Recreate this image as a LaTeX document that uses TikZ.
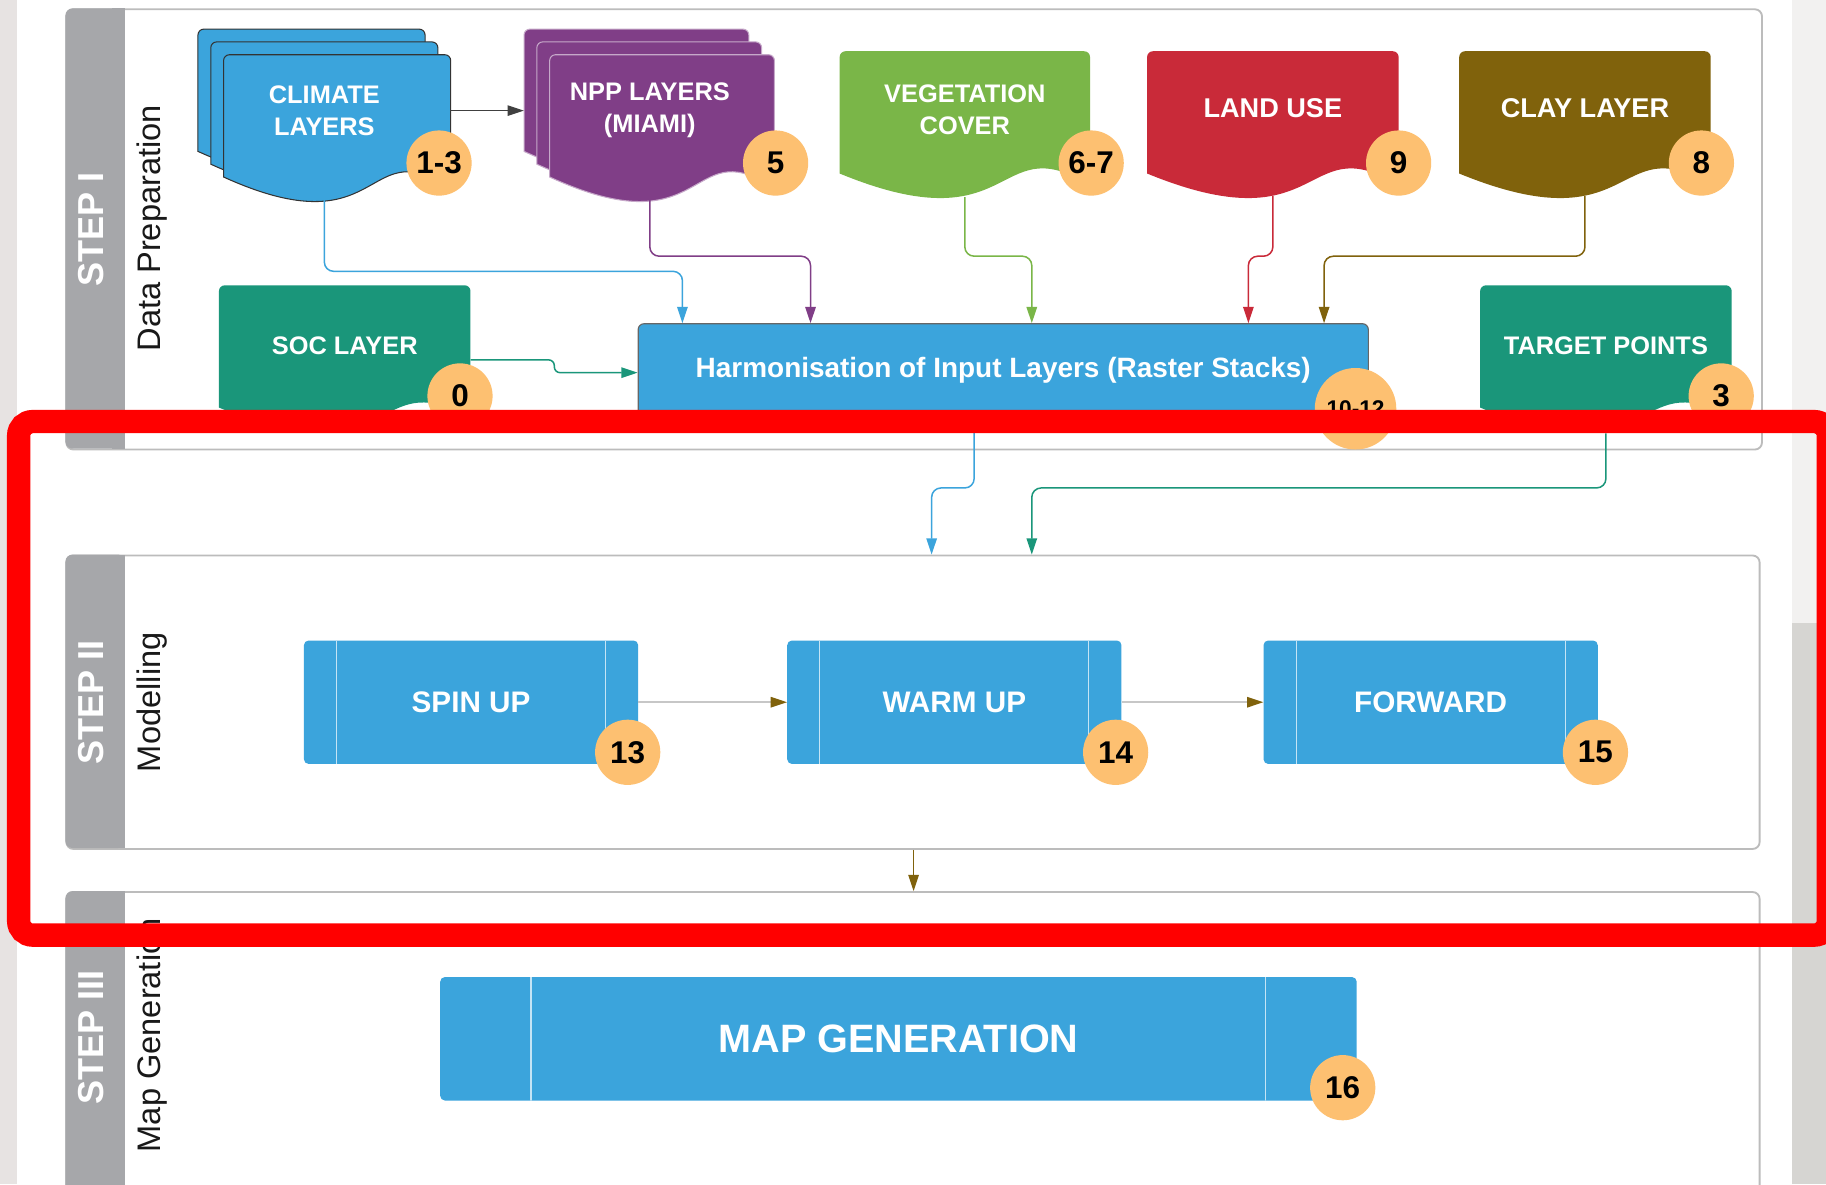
\documentclass[tikz,border=0pt]{standalone}
\usepackage{fontspec}
\setmainfont{Liberation Sans}
\usetikzlibrary{arrows.meta}

\definecolor{layerblue}{RGB}{59,164,220}
\definecolor{nppviolet}{RGB}{128,62,135}
\definecolor{veggreen}{RGB}{122,182,72}
\definecolor{landred}{RGB}{201,42,57}
\definecolor{claybrown}{RGB}{128,98,12}
\definecolor{soilteal}{RGB}{26,150,122}
\definecolor{badgeorange}{RGB}{253,192,113}
\definecolor{bargray}{RGB}{166,167,170}
\definecolor{framegray}{RGB}{188,188,188}
\definecolor{edgeleft}{RGB}{231,227,226}
\definecolor{edgeright}{RGB}{242,241,240}
\definecolor{edgetexture}{RGB}{214,213,210}

\tikzset{
  stepframe/.style={draw=framegray, line width=1.6pt, fill=white, rounded corners=6pt},
  steplabel/.style={text=white, font=\fontsize{31}{31}\selectfont\bfseries, inner sep=0pt},
  phaselabel/.style={text=black!90, font=\fontsize{28}{28}\selectfont, inner sep=0pt},
  doctext/.style={text=white, align=center, minimum width=216pt, minimum height=150pt,
    inner sep=0pt, font=\fontsize{21.8}{27.5}\selectfont\bfseries},
  procbox/.style={fill=layerblue, rounded corners=4pt, minimum height=106pt, text=white,
    font=\fontsize{25.5}{25.5}\selectfont\bfseries,
    path picture={\draw[white!70!layerblue, line width=1pt]
      ([xshift=#1]path picture bounding box.north west) -- ([xshift=#1]path picture bounding box.south west)
      ([xshift=-#1]path picture bounding box.north east) -- ([xshift=-#1]path picture bounding box.south east);}},
  procbox/.default=28pt,
  badge/.style={circle, fill=badgeorange, minimum size=56pt, inner sep=0pt,
    font=\fontsize{27}{27}\selectfont\bfseries},
  link/.style={draw=#1, line width=1.3pt, rounded corners=8pt, -{Triangle[length=14pt,width=9pt]}},
}

\newcommand{\docshape}[4]{%
  \path[#4] (#1,#2+105) [rounded corners=5pt] -- (#1,#2) -- (#1+#3,#2) -- (#1+#3,#2+115)
    [sharp corners] .. controls (#1+0.62*#3,#2+68) and (#1+0.7*#3,#2+167) .. (#1,#2+105) -- cycle;}

\begin{document}
\begin{tikzpicture}[x=1pt, y=-1pt]
  \useasboundingbox (0,0) rectangle (1568,1017);
  \clip (0,0) rectangle (1568,1017);
  \fill[white] (0,0) rectangle (1568,1017);
  \fill[edgeleft] (0,0) rectangle (15,1017);
  \fill[edgeright] (1539,0) rectangle (1568,535);
  \fill[edgetexture] (1539,535) rectangle (1568,1017);

  \node[stepframe, minimum width=1456pt, minimum height=378pt] (step1) at (785,197) {};
  \node[stepframe, minimum width=1454pt, minimum height=252pt] (step2) at (784,603) {};
  \node[stepframe, minimum width=1454pt, minimum height=310pt] (step3) at (784,921) {};
  \foreach \s/\h in {step1/378, step2/252, step3/310} {
    \fill[bargray, rounded corners=6pt] (\s.north west) rectangle ++(51,\h);
    \fill[bargray] ([xshift=40pt]\s.north west) rectangle ++(11,\h);
  }

  \node[steplabel, rotate=90] (tag1) at (78.5,197) {STEP I};
  \node[phaselabel, rotate=90] (ph1) at (131,196) {Data Preparation};
  \node[steplabel, rotate=90] (tag2) at (78.5,603) {STEP II};
  \node[phaselabel, rotate=90] (ph2) at (131,603) {Modelling};
  \node[steplabel, rotate=90] (tag3) at (78.5,891) {STEP III};
  \node[phaselabel, rotate=90] (ph3) at (131,889) {Map Generation};

  % input layers
  \foreach \d in {0,11,22} {
    \docshape{170+\d}{25+\d}{195}{fill=layerblue, draw=black!80, line width=0.9pt}
    \docshape{450+\d}{25+\d}{193}{fill=nppviolet, draw=white!55!nppviolet, line width=0.9pt}
  }
  \docshape{721}{44}{215}{fill=veggreen}
  \docshape{985}{44}{216}{fill=landred}
  \docshape{1253}{44}{216}{fill=claybrown}
  \docshape{188}{245}{216}{fill=soilteal}
  \docshape{1271}{245}{216}{fill=soilteal}

  \node[doctext] (clim) at (278.5,95) {CLIMATE\\LAYERS};
  \node[doctext] (npp) at (558,95) {NPP LAYERS\\(MIAMI)};
  \node[doctext] (veg) at (828.5,94) {VEGETATION\\COVER};
  \node[doctext, font=\fontsize{23.3}{23.3}\selectfont\bfseries] (land) at (1093,93) {LAND USE};
  \node[doctext, font=\fontsize{23.3}{23.3}\selectfont\bfseries] (clay) at (1361,93) {CLAY LAYER};
  \node[doctext] (soc) at (296,297) {SOC LAYER};
  \node[doctext] (target) at (1379,297) {TARGET POINTS};

  \node[fill=layerblue, draw=black!60, line width=1pt, rounded corners=5pt, minimum width=627pt,
    minimum height=80pt, text=white, font=\fontsize{24}{24}\selectfont\bfseries]
    (harm) at (861.5,318) {Harmonisation of Input Layers (Raster Stacks)};

  % modelling chain
  \node[procbox, minimum width=287pt] (spin) at (404.5,603) {SPIN UP};
  \node[procbox, minimum width=287pt] (warm) at (819.5,603) {WARM UP};
  \node[procbox, minimum width=287pt] (fwd) at (1228.5,603) {FORWARD};
  \node[procbox=78pt, minimum width=787pt, font=\fontsize{34}{34}\selectfont\bfseries]
    (mapgen) at (771.5,892) {MAP GENERATION};

  \coordinate (c1) at (586,233);
  \coordinate (c2) at (696,220);
  \coordinate (c3) at (886,220);
  \coordinate (c4) at (1072,220);
  \coordinate (c5) at (1137,220);
  \coordinate (s1) at (476,309);
  \coordinate (s2) at (476,320);
  \coordinate (h1) at (836.5,419);
  \coordinate (h2) at (800,419);
  \coordinate (t1) at (886,419);
  \coordinate (m1) at (784.5,0);

  \draw[link=layerblue] (clim.south) |- (c1) -- (c1 |- harm.north);
  \draw[link=nppviolet] (npp.south) |- (c2) -- (c2 |- harm.north);
  \draw[link=veggreen] (veg.south) |- (c3) -- (c3 |- harm.north);
  \draw[link=landred] (land.south) |- (c4) -- (c4 |- harm.north);
  \draw[link=claybrown] (clay.south) |- (c5) -- (c5 |- harm.north);
  \draw[link=soilteal, rounded corners=5pt] (soc.east |- s1) -- (s1) -- (s2) -- (harm.west |- s2);
  \draw[link=black!75, line width=1pt] (clim.east) -- (npp.west);
  \draw[link=layerblue] (harm.south -| h1) -- (h1) -- (h2) -- (h2 |- step2.north);
  \draw[link=soilteal] (target.south) |- (t1) -- (t1 |- step2.north);
  \draw[link=black!22, -{Triangle[length=14pt,width=9pt,color=claybrown]}] (spin) -- (warm);
  \draw[link=black!22, -{Triangle[length=14pt,width=9pt,color=claybrown]}] (warm) -- (fwd);
  \draw[link=claybrown] (step2.south -| m1) -- (step3.north -| m1);

  \node[badge] (n13) at (377,140) {1-3};
  \node[badge] (n5) at (666,140) {5};
  \node[badge] (n67) at (937,140) {6-7};
  \node[badge] (n9) at (1201,140) {9};
  \node[badge] (n8) at (1461,140) {8};
  \node[badge] (n0) at (395,340) {0};
  \node[badge] (n3) at (1478,340) {3};
  \node[badge, minimum size=70pt, font=\fontsize{19.5}{19.5}\selectfont\bfseries] (n1012) at (1164,351) {10-12};
  \node[badge] (n13b) at (539,646) {13};
  \node[badge] (n14) at (958,646) {14};
  \node[badge] (n15) at (1370,646) {15};
  \node[badge] (n16) at (1153,934) {16};

  \draw[red, line width=20pt, rounded corners=12pt] (16,362) rectangle (1570,803);
\end{tikzpicture}
\end{document}
